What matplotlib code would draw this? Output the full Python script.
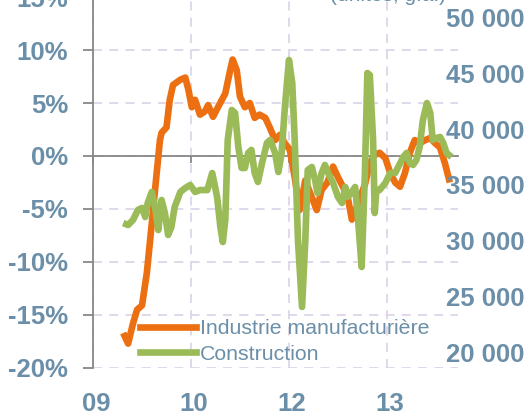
import matplotlib.pyplot as plt
from matplotlib.lines import Line2D
from matplotlib.transforms import ScaledTranslation

plt.rcParams['font.family'] = ['Liberation Sans', 'DejaVu Sans']

# x positions are months counted from January 2009
industry_months = [3.7, 4.3, 4.9, 5.4, 6.0, 6.6, 7.0, 7.4, 7.8, 8.2, 8.4, 9.0, 9.4, 9.8,
                   10.7, 11.3, 11.7, 12.1, 12.5, 13.1, 13.7, 14.1, 14.7, 15.3, 16.2, 16.8,
                   17.1, 17.6, 18.0, 18.6, 19.2, 19.8, 20.4, 21.1, 21.7, 22.3, 22.9, 23.5,
                   24.1, 24.7, 25.3, 26.0, 26.6, 27.4, 28.0, 28.7, 29.4, 30.0, 30.6, 31.2,
                   31.7, 32.3, 32.7, 33.3, 33.9, 34.5, 35.1, 35.8, 36.4, 37.0, 37.6, 38.2,
                   38.8, 39.4, 40.0, 40.7, 41.3, 41.9, 42.5, 43.1, 43.7]
industry_pct = [-16.7, -17.7, -15.8, -14.5, -14.1, -11.0, -7.9, -4.8, -1.6, 1.5, 2.2, 2.7,
                5.3, 6.7, 7.2, 7.4, 6.2, 4.6, 5.3, 3.9, 4.2, 4.8, 3.7, 4.6, 5.9, 8.1, 9.1,
                8.1, 5.6, 4.6, 5.0, 3.6, 3.9, 3.6, 2.6, 1.5, 2.0, 1.2, 0.6, -2.0, -5.1, -2.3,
                -3.5, -5.1, -3.2, -2.5, -1.0, -2.0, -2.9, -3.9, -6.0, -4.8, -3.9, -2.7,
                -0.7, 0.1, 0.3, -0.2, -1.6, -2.5, -2.9, -1.6, 0.3, 1.5, 1.2, 1.5, 1.7, 1.2,
                0.8, -0.7, -2.5]

construction_months = [3.7, 4.3, 4.9, 5.5, 6.0, 6.4, 6.7, 7.2, 7.6, 8.0, 8.4, 8.8, 9.2, 9.6,
                       10.0, 10.7, 11.3, 11.9, 12.5, 13.1, 14.0, 14.6, 15.2, 15.6, 15.9,
                       16.2, 16.5, 17.0, 17.4, 17.8, 18.2, 18.6, 19.0, 19.4, 19.8, 20.2,
                       20.7, 21.3, 21.7, 22.3, 22.7, 23.1, 23.5, 24.0, 24.4, 24.7, 25.1,
                       25.6, 26.0, 26.3, 26.8, 27.2, 27.5, 28.0, 28.4, 28.8, 29.4, 30.0,
                       30.5, 30.9, 31.2, 31.7, 32.1, 32.4, 32.9, 33.3, 33.6, 33.9, 34.3,
                       34.5, 34.7, 35.1, 35.8, 36.4, 37.0, 38.0, 38.4, 38.8, 39.2, 39.6,
                       40.0, 40.4, 40.9, 41.3, 41.6, 42.1, 42.5, 42.9, 43.3, 43.9]
construction_units = [31600, 31430, 31880, 32770, 32950, 32140, 33390, 34380, 33040, 30980,
                      33660, 32500, 30540, 31250, 33040, 34380, 34730, 35000, 34380, 34550,
                      34550, 36070, 33930, 31250, 29910, 31880, 39020, 41700, 41430, 38390,
                      36520, 36520, 37860, 38130, 36070, 35270, 36960, 38750, 39020, 37860,
                      36160, 37860, 41960, 46160, 44110, 39020, 30090, 24110, 30090, 36340,
                      36610, 35450, 34290, 36070, 36790, 36070, 35180, 33930, 33390, 34820,
                      33930, 34380, 34820, 32500, 27680, 36070, 45000, 44820, 39020, 32500,
                      34550, 34550, 35180, 36070, 36070, 37500, 37860, 36960, 36790, 37230,
                      38390, 40800, 42320, 41430, 39020, 39200, 39290, 38750, 37860, 37500]

year_ticks = [0, 12, 24, 36]
year_labels = ['09', '10', '12', '13']
pct_ticks = [-20, -15, -10, -5, 0, 5, 10, 15]
pct_labels = [f'{p}%' for p in pct_ticks]
unit_ticks = [20000, 25000, 30000, 35000, 40000, 45000, 50000]
unit_labels = [f'{u // 1000} 000' for u in unit_ticks]

label_col = '#6b8fa8'
axis_col = '#878787'
grid_col = '#ddd5ea'
orange = '#ec7011'
green = '#9bbb59'

fig = plt.figure(figsize=(5.29, 4.15), dpi=100)
ax = fig.add_axes([0.1758, 0.1133, 0.69, 0.8939])
ax2 = ax.twinx()

ax.plot(industry_months, industry_pct, color=orange, lw=4.8, solid_joinstyle='round',
        solid_capstyle='butt')
ax2.plot(construction_months, construction_units, color=green, lw=4.8,
         solid_joinstyle='round', solid_capstyle='butt')

ax.set_xlim(0, 44.7)
ax.set_ylim(-20, 15)
ax2.set_ylim(18661, 51786)

ax.set_xticks(year_ticks, labels=year_labels, fontsize=18.5, fontweight='bold',
              color=label_col)
ax.set_yticks(pct_ticks, labels=pct_labels, fontsize=18.5, fontweight='bold',
              color=label_col)
ax2.set_yticks(unit_ticks, labels=unit_labels, fontsize=18.5, fontweight='bold',
               color=label_col)

ax.grid(True, ls=(0, (5, 4)), color=grid_col, lw=1.3)
ax.set_axisbelow(True)
for side in ['top', 'right', 'bottom']:
    ax.spines[side].set_visible(False)
ax.spines['left'].set_color(axis_col)
ax.spines['left'].set_linewidth(1.3)
for side in ax2.spines:
    ax2.spines[side].set_visible(False)

ax.tick_params(axis='x', length=0, pad=17)
ax.tick_params(axis='y', length=7, width=1.3, color=axis_col, pad=11)
ax2.tick_params(axis='y', length=0, pad=-9)
# year labels sit a few pixels right of their gridlines
shift = ScaledTranslation(0.03, 0, fig.dpi_scale_trans)
for lab in ax.get_xticklabels():
    lab.set_transform(lab.get_transform() + shift)

# zero line with its small tick marks, kept above the dashed grid
zero = ax.secondary_xaxis(20 / 35)
zero.set_alignment('bottom')
zero.set_zorder(1)
zero.set_xticks(year_ticks, labels=[])
zero.tick_params(direction='out', length=5, width=1.3, color=axis_col)
zero.spines['bottom'].set_color(axis_col)
zero.spines['bottom'].set_linewidth(1.3)

handles = [Line2D([], [], color=orange, lw=4.8), Line2D([], [], color=green, lw=4.8)]
ax2.legend(handles, ['Industrie manufacturière', 'Construction'], loc='lower left',
           bbox_to_anchor=(0.13, 0.012), frameon=False, fontsize=15.3,
           labelcolor=label_col, handlelength=2.6, handletextpad=0.2,
           labelspacing=0.3, borderpad=0, borderaxespad=0)

fig.text(330 / 529, 1 - 1 / 415, '(unités, g.a.)', ha='left', va='baseline',
         fontsize=15, color=label_col)

fig.savefig('out.png', dpi=100)
